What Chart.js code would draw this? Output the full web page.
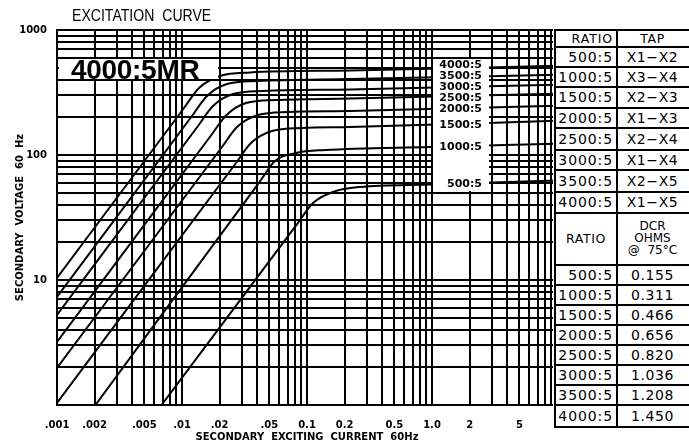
<!DOCTYPE html>
<html>
<head>
<meta charset="utf-8">
<title>Excitation Curve 4000:5MR</title>
<script src="https://cdn.jsdelivr.net/npm/chart.js@4.4.1/dist/chart.umd.min.js"></script>
<style>
  body { margin: 0; background: #fff; }
  #wrap { position: relative; width: 689px; height: 444px; overflow: hidden; }
  #myChart { position: absolute; left: 0; top: 0; }
  .mask { position: absolute; background: #fff; }
  .txt { position: absolute; white-space: pre; color: #000; }
  .ln { position: absolute; background: #000; }
</style>
</head>
<body>
<div id="wrap">
  <canvas id="myChart" width="689" height="444"></canvas>
</div>
<script>
// table data
var ratios = ['500:5', '1000:5', '1500:5', '2000:5', '2500:5', '3000:5', '3500:5', '4000:5'];
var taps = ['X1\u2212X2', 'X3\u2212X4', 'X2\u2212X3', 'X1\u2212X3', 'X2\u2212X4', 'X1\u2212X4', 'X2\u2212X5', 'X1\u2212X5'];
var dcrOhms = ['0.155', '0.311', '0.466', '0.656', '0.820', '1.036', '1.208', '1.450'];

// curve readings: secondary exciting current (A) vs secondary voltage (V)
var amps500 = [0.00686, 0.0847, 0.1117, 0.1614, 0.2655, 0.964, 10];
var volts500 = [1, 28.6, 41.3, 50.6, 55.5, 58.1, 62.5];
var amps1000 = [0.00203, 0.04207, 0.05546, 0.0817, 0.1393, 0.964, 10];
var volts1000 = [1, 61.5, 89.5, 103.8, 109.6, 115.9, 123];
var amps1500 = [0.001, 0.02704, 0.03565, 0.0525, 0.0912, 0.2208, 10];
var volts1500 = [1.04, 86.3, 124.7, 155.6, 164.4, 167.5, 188];
var amps2000 = [0.001, 0.02089, 0.02754, 0.04055, 0.0705, 0.2208, 10];
var volts2000 = [1.98, 115.9, 167.5, 208.9, 220.8, 224.9, 248];
var amps2500 = [0.001, 0.01706, 0.0225, 0.0325, 0.0565, 0.2208, 10];
var volts2500 = [3.19, 143.2, 207, 260.6, 275.4, 283.1, 309];
var amps3000 = [0.001, 0.01343, 0.0177, 0.0256, 0.0445, 0.2208, 10];
var volts3000 = [5.25, 170.6, 246.6, 307.6, 325, 334.2, 365];
var amps3500 = [0.001, 0.01202, 0.01585, 0.0229, 0.0398, 0.2208, 10];
var volts3500 = [7.31, 205.1, 296.5, 369.8, 390.8, 405.5, 438];
var amps4000 = [0.001, 0.01038, 0.01368, 0.02014, 0.035, 0.2208, 10];
var volts4000 = [10.4, 237.7, 343.6, 428.5, 457, 474, 517];

// axis labels
var xLabelValues = [0.001, 0.002, 0.005, 0.01, 0.02, 0.05, 0.1, 0.2, 0.5, 1, 2, 5];
var xLabelTexts = ['.001', '.002', '.005', '.01', '.02', '.05', '0.1', '0.2', '0.5', '1.0', '2', '5'];
var yLabelValues = [10, 100, 1000];
var yLabelTexts = ['10', '100', '1000'];

// 1..9 lines in every decade
function logGrid(lo, hi) {
    var out = [];
    for (var d = lo; d < hi; d++) {
        for (var m = 1; m < 10; m++) out.push(m * Math.pow(10, d));
    }
    out.push(Math.pow(10, hi));
    return out;
}

function labelFor(value, values, texts) {
    for (var i = 0; i < values.length; i++) {
        if (Math.abs(Math.log10(value) - Math.log10(values[i])) < 1e-6) return texts[i];
    }
    return '';
}

var curves = [
    [amps500, volts500], [amps1000, volts1000], [amps1500, volts1500], [amps2000, volts2000],
    [amps2500, volts2500], [amps3000, volts3000], [amps3500, volts3500], [amps4000, volts4000]
];

var datasets = curves.map(function (c, k) {
    return {
        label: ratios[k],
        data: c[0].map(function (a, i) { return { x: a, y: c[1][i] }; }),
        showLine: true,
        borderColor: '#000',
        borderWidth: 2,
        pointRadius: 0,
        fill: false,
        cubicInterpolationMode: 'monotone'
    };
});

var xGrid = logGrid(-3, 1);
var yGrid = logGrid(0, 3);

Chart.defaults.font.family = '"DejaVu Sans", sans-serif';
Chart.defaults.color = '#000';

var ctx = document.getElementById('myChart').getContext('2d');
var myChart = new Chart(ctx, {
    type: 'scatter',
    data: { datasets: datasets },
    options: {
        responsive: false,
        animation: false,
        layout: { padding: { top: 30, right: 132, left: 0, bottom: 0 } },
        plugins: { legend: { display: false }, tooltip: { enabled: false } },
        scales: {
            x: {
                type: 'logarithmic',
                min: 0.001,
                max: 10,
                afterBuildTicks: function (s) { s.ticks = xGrid.map(function (v) { return { value: v }; }); },
                afterFit: function (s) { s.height = 39; },
                grid: { color: '#000', lineWidth: 2, drawTicks: false },
                border: { color: '#000', width: 2 },
                ticks: {
                    autoSkip: false, maxRotation: 0, minRotation: 0, padding: 14.5,
                    font: { size: 10, weight: 'bold' },
                    callback: function (v) { return labelFor(v, xLabelValues, xLabelTexts); }
                },
                title: {
                    display: true, text: 'SECONDARY  EXCITING  CURRENT  60Hz',
                    font: { size: 10, weight: 'bold' }, padding: { top: 0, bottom: 1 }
                }
            },
            y: {
                type: 'logarithmic',
                min: 1,
                max: 1000,
                afterBuildTicks: function (s) { s.ticks = yGrid.map(function (v) { return { value: v }; }); },
                afterFit: function (s) { s.width = 57; },
                grid: { color: '#000', lineWidth: 2, drawTicks: false },
                border: { color: '#000', width: 2 },
                ticks: {
                    autoSkip: false, padding: 10,
                    font: { size: 10, weight: 'bold' },
                    callback: function (v) { return labelFor(v, yLabelValues, yLabelTexts); }
                },
                title: {
                    display: true, text: 'SECONDARY  VOLTAGE  60  Hz',
                    font: { size: 10, weight: 'bold' }, padding: { top: 14, bottom: 0 }
                }
            }
        }
    }
});

// overlays: white boxes, labels and the ratio table
var wrap = document.getElementById('wrap');

function addBox(cls, left, top, width, height) {
    var d = document.createElement('div');
    d.className = cls;
    d.style.left = left + 'px';
    d.style.top = top + 'px';
    d.style.width = width + 'px';
    d.style.height = height + 'px';
    wrap.appendChild(d);
    return d;
}

function addText(text, left, top, width, height, font, align, extra) {
    var d = addBox('txt', left, top, width, height);
    d.textContent = text;
    d.style.font = font;
    d.style.lineHeight = height + 'px';
    d.style.textAlign = align;
    if (extra) for (var k in extra) d.style[k] = extra[k];
    return d;
}

// title and 4000:5MR tag
addText('EXCITATION  CURVE', 72, 7, 180, 18, '16px "Liberation Sans", sans-serif', 'left',
    { transform: 'scaleX(0.88)', transformOrigin: 'left center' });
addBox('mask', 59, 59, 159, 20);
addText('4000:5MR', 71, 56, 150, 28, 'bold 28px "Liberation Sans", sans-serif', 'left', { letterSpacing: '-0.3px' });

// curve name box
addBox('mask', 433, 59, 56, 132);
var labelCenters = [183.5, 146, 124.5, 108, 97, 86, 75, 64];
ratios.forEach(function (r, i) {
    addText(r, 420, labelCenters[i] - 5.5, 62, 11, 'bold 11px "DejaVu Sans", sans-serif', 'right');
});

// ratio / tap / DCR table
addBox('mask', 553, 0, 136, 444);
var rowEdges = [30, 47, 67, 87, 108, 128, 150, 170, 192, 213, 265, 285, 305, 325, 345, 365, 385, 405, 427];
rowEdges.forEach(function (y) { addBox('ln', 554, y - 1, 135, 2); });
addBox('ln', 554, 29, 2, 399);
addBox('ln', 616, 29, 2, 399);

var cellFont = '14px "DejaVu Sans", sans-serif';
var headFont = '12.5px "DejaVu Sans", sans-serif';
function row(i, left, right, font) {
    var top = rowEdges[i], h = rowEdges[i + 1] - rowEdges[i];
    addText(left, 556, top, 57, h, font, 'right', { letterSpacing: '0.9px' });
    addText(right, 618, top, 69, h, font, 'center', { letterSpacing: '0.6px' });
}
row(0, 'RATIO', 'TAP', headFont);
ratios.forEach(function (r, i) { row(i + 1, r, taps[i], cellFont); });
addText('RATIO', 556, 213, 60, 52, headFont, 'center', { letterSpacing: '0.6px' });
addText('DCR', 618, 220, 69, 12, '12px "DejaVu Sans", sans-serif', 'center');
addText('OHMS', 618, 232, 69, 12, '12px "DejaVu Sans", sans-serif', 'center');
addText('@  75\u00b0C', 618, 244, 69, 12, '12px "DejaVu Sans", sans-serif', 'center');
ratios.forEach(function (r, i) { row(i + 10, r, dcrOhms[i], cellFont); });
</script>
</body>
</html>
